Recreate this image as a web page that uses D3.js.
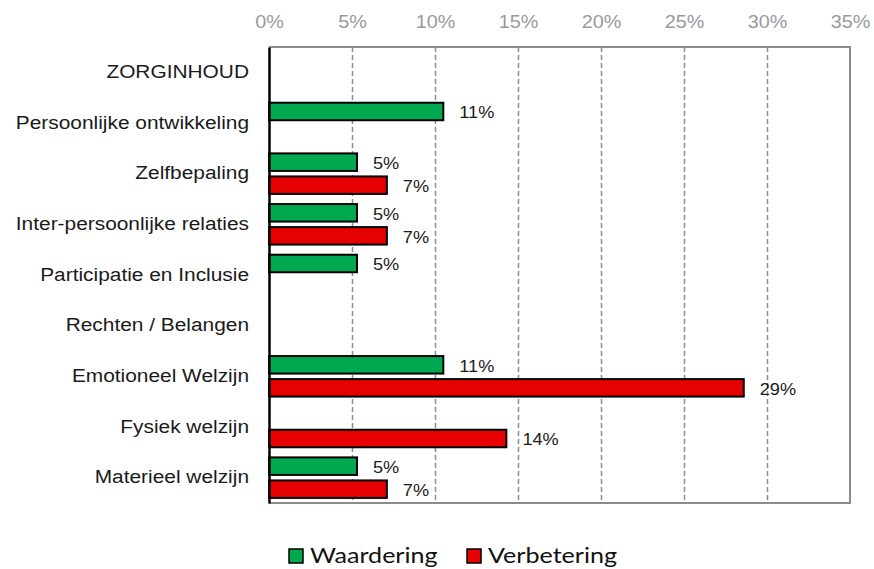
<!DOCTYPE html>
<html>
<head>
<meta charset="utf-8">
<script src="https://cdn.jsdelivr.net/npm/d3@7"></script>
<style>
  body { margin: 0; background: #fff; }
  svg { display: block; font-family: "Liberation Sans", Arial, sans-serif; }
</style>
</head>
<body>
<div class="chart"></div>
<script>
'use strict';

// Data
const categories = [
  "ZORGINHOUD",
  "Persoonlijke ontwikkeling",
  "Zelfbepaling",
  "Inter-persoonlijke relaties",
  "Participatie en Inclusie",
  "Rechten / Belangen",
  "Emotioneel Welzijn",
  "Fysiek welzijn",
  "Materieel welzijn"
];
const seriesNames = ["Waardering", "Verbetering"];
const waardering = [null, 0.105, 0.053, 0.053, 0.053, null, 0.105, null, 0.053];
const verbetering = [null, null, 0.071, 0.071, null, null, 0.286, 0.143, 0.071];
const xTicks = [0, 0.05, 0.10, 0.15, 0.20, 0.25, 0.30, 0.35];

const colors = {Waardering: "#00a84f", Verbetering: "#e60000"};

// Canvas size
const W = 874, H = 569;
const plot = {left: 269, right: 850, top: 47, bottom: 503};

const svg = d3.select(".chart")
  .append("svg")
  .attr("width", W)
  .attr("height", H);

// scales
const x = d3.scaleLinear().domain([0, 0.35]).range([plot.left, plot.right]);
const y = d3.scaleBand().domain(categories).range([plot.top, plot.bottom]).padding(0);
const ySub = d3.scaleBand().domain(seriesNames).range([0, y.bandwidth()])
  .paddingInner(0.24).paddingOuter(0.22);

// dashed grid lines
svg.append("g")
  .attr("class", "grid")
  .attr("transform", `translate(0,${plot.top})`)
  .call(d3.axisBottom(x).tickValues(xTicks.slice(1, -1)).tickSize(plot.bottom - plot.top).tickFormat(""))
  .call(g => g.select(".domain").remove())
  .call(g => g.selectAll("line")
    .attr("stroke", "#8c8c8c")
    .attr("stroke-width", 1.5)
    .attr("stroke-dasharray", "5,3"));

// plot frame (top, right, bottom in gray)
svg.append("path")
  .attr("d", `M${plot.left},${plot.top}H${plot.right}V${plot.bottom}H${plot.left}`)
  .attr("fill", "none")
  .attr("stroke", "#8c8c8c")
  .attr("stroke-width", 2);

// top tick labels
svg.append("g")
  .attr("class", "x-axis")
  .attr("transform", `translate(0,${plot.top})`)
  .call(d3.axisTop(x).tickValues(xTicks).tickFormat(d3.format(".0%")).tickSize(0).tickPadding(19))
  .call(g => g.select(".domain").remove())
  .call(g => g.selectAll("text")
    .attr("fill", "#999")
    .style("font-size", "18px")
    .attr("transform", "scale(1.1,1)"));

// bars
const rows = [];
categories.forEach((c, i) => {
  if (waardering[i] != null) rows.push({cat: c, series: "Waardering", value: waardering[i]});
  if (verbetering[i] != null) rows.push({cat: c, series: "Verbetering", value: verbetering[i]});
});

svg.append("g")
  .selectAll("rect")
  .data(rows)
  .enter()
  .append("rect")
  .attr("x", x(0))
  .attr("y", d => y(d.cat) + ySub(d.series))
  .attr("width", d => x(d.value) - x(0))
  .attr("height", ySub.bandwidth())
  .attr("fill", d => colors[d.series])
  .attr("stroke", "#000")
  .attr("stroke-width", 2);

// value labels
svg.append("g")
  .selectAll("text")
  .data(rows)
  .enter()
  .append("text")
  .attr("transform", d => `translate(${x(d.value) + 16},${y(d.cat) + ySub(d.series) + ySub.bandwidth() / 2 + 1}) scale(1.07,1)`)
  .attr("dy", "0.35em")
  .style("font-size", "17px")
  .attr("fill", "#1a1a1a")
  .text(d => Math.round(d.value * 100) + "%");

// category axis
svg.append("g")
  .attr("class", "y-axis")
  .attr("transform", `translate(${plot.left},0)`)
  .call(d3.axisLeft(y).tickSize(0).tickPadding(20))
  .call(g => g.select(".domain").attr("stroke", "#000").attr("stroke-width", 2.5))
  .call(g => g.selectAll("text")
    .attr("x", 0)
    .attr("fill", "#1a1a1a")
    .style("font-size", "18px")
    .attr("transform", "translate(-20,0) scale(1.16,1)"));

// legend
const legendX = [289, 467];
const legend = svg.append("g")
  .selectAll("g")
  .data(seriesNames)
  .enter()
  .append("g")
  .attr("transform", (d, i) => `translate(${legendX[i]},549)`);
legend.append("rect")
  .attr("width", 14)
  .attr("height", 14)
  .attr("fill", d => colors[d])
  .attr("stroke", "#000")
  .attr("stroke-width", 1.5);
legend.append("text")
  .attr("transform", "translate(21,14) scale(1.14,1)")
  .style("font-family", "Lato, 'Open Sans', sans-serif")
  .style("font-size", "22px")
  .attr("fill", "#111")
  .text(d => d);
</script>
</body>
</html>
